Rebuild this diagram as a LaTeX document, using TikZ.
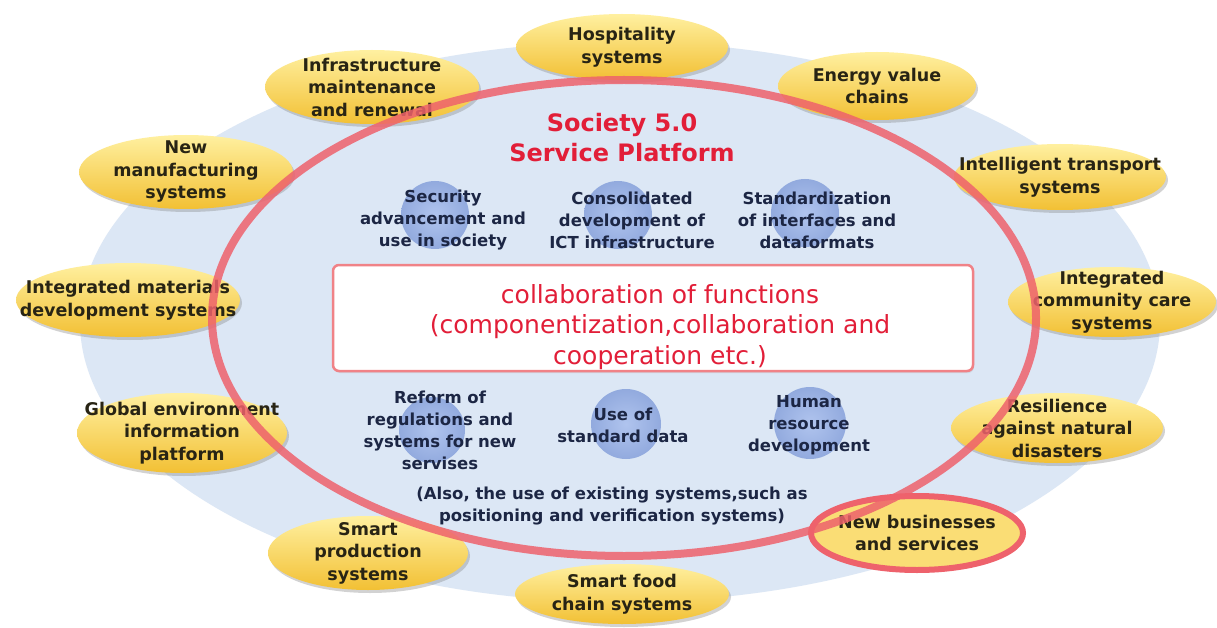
\documentclass[tikz,border=0pt]{standalone}
\usepackage{fontspec}
\setmainfont{DejaVu Sans}
\usetikzlibrary{shapes.geometric,shadows}
\definecolor{bgblue}{RGB}{220,231,245}
\definecolor{ringred}{RGB}{238,98,108}
\definecolor{ytop}{RGB}{255,240,160}
\definecolor{ybot}{RGB}{242,192,52}
\definecolor{cblue}{RGB}{176,196,238}
\definecolor{cblueout}{RGB}{146,170,222}
\definecolor{navy}{RGB}{28,38,68}
\definecolor{dark}{RGB}{40,36,20}
\definecolor{titlered}{RGB}{226,30,56}
\definecolor{boxred}{RGB}{240,130,135}
\tikzset{
  yell/.style={ellipse, inner sep=0pt, top color=ytop, bottom color=ybot, draw=none,
    drop shadow={opacity=0.35, shadow xshift=2pt, shadow yshift=-3pt}},
  ylab/.style={font=\bfseries\fontsize{17.5}{22.5}\selectfont, text=dark, align=center, inner sep=0pt},
  ilab/.style={font=\bfseries\fontsize{16.5}{22}\selectfont, text=navy, align=center, inner sep=0pt},
  bcirc/.style={circle, inner sep=0pt, minimum size=68pt, inner color=cblue, outer color=cblueout},
}
\begin{document}
\begin{tikzpicture}[x=1pt,y=-1pt]
\useasboundingbox (0,0) rectangle (1217,628);
\fill[white] (0,0) rectangle (1217,628);
% background ellipse
\node[ellipse, fill=bgblue, minimum width=1080pt, minimum height=560pt, inner sep=0pt] (bg) at (620,322) {};
% blue circles
\node[bcirc] (c1) at (435,215) {};
\node[bcirc] (c2) at (618,215) {};
\node[bcirc] (c3) at (805,213) {};
\node[bcirc, minimum size=66pt] (c0) at (432,430) {};
\node[bcirc, minimum size=70pt] (c4) at (626,424) {};
\node[bcirc, minimum size=72pt] (c5) at (810,423) {};
% yellow ellipses
\node[yell, minimum width=214pt, minimum height=74pt] (infra) at (372,87) {};
\node[yell, minimum width=212pt, minimum height=66pt] (hosp) at (622,47) {};
\node[yell, minimum width=198pt, minimum height=68pt] (energy) at (877,86) {};
\node[yell, minimum width=212pt, minimum height=66pt] (its) at (1060,177) {};
\node[yell, minimum width=208pt, minimum height=70pt] (care) at (1112,302) {};
\node[yell, minimum width=212pt, minimum height=70pt] (resil) at (1057,428) {};
\node[yell, minimum width=214pt, minimum height=60pt] (food) at (622,594) {};
\node[yell, minimum width=200pt, minimum height=74pt] (prod) at (368,553) {};
\node[yell, minimum width=210pt, minimum height=80pt] (glob) at (182,433) {};
\node[yell, minimum width=224pt, minimum height=74pt] (mat) at (128,300) {};
\node[yell, minimum width=214pt, minimum height=74pt] (manu) at (186,172) {};
\node[ellipse, inner sep=0pt, minimum width=212pt, minimum height=74pt, fill=ytop!60!ybot, draw=ringred, line width=6pt] (biz) at (917,533) {};
% labels on yellow ellipses
\node[ylab] (tinfra) at (infra) {Infrastructure\\maintenance\\and renewal};
\node[ylab] (thosp) at (hosp) {Hospitality\\systems};
\node[ylab] (tenergy) at (energy) {Energy value\\chains};
\node[ylab] (tits) at (its) {Intelligent transport\\systems};
\node[ylab] (tcare) at (care) {Integrated\\community care\\systems};
\node[ylab] (tresil) at (resil) {Resilience\\against natural\\disasters};
\node[ylab] (tbiz) at (biz) {New businesses\\and services};
\node[ylab] (tfood) at (food) {Smart food\\chain systems};
\node[ylab] (tprod) at (prod) {Smart\\production\\systems};
\node[ylab] (tglob) at (glob) {Global environment\\information\\platform};
\node[ylab] (tmat) at (mat) {Integrated materials\\development systems};
\node[ylab] (tmanu) at (manu) {New\\manufacturing\\systems};
% red ring
\node[ellipse, inner sep=0pt, minimum width=824pt, minimum height=476pt, draw=ringred, draw opacity=0.85, line width=8pt] (ring) at (624,318) {};
% title
\node[font=\bfseries\fontsize{24}{30}\selectfont, text=titlered, align=center, inner sep=0pt] (title) at (622,138) {Society 5.0\\Service Platform};
% top labels
\node[ilab] (t1) at (443,220) {Security\\advancement and\\use in society};
\node[ilab] (t2) at (632,220) {Consolidated\\development of\\ICT infrastructure};
\node[ilab] (t3) at (817,220) {Standardization\\of interfaces and\\dataformats};
% box
\node[draw=boxred, line width=2.5pt, fill=white, rounded corners=6pt, minimum width=640pt, minimum height=106pt, inner sep=0pt,
  drop shadow={opacity=0.15, shadow xshift=1pt, shadow yshift=-2pt}] (box) at (653,318) {};
\node[font=\fontsize{25}{30.5}\selectfont, text=titlered, align=center, inner sep=0pt] (boxt) at (660,327) {collaboration of functions\\(componentization,collaboration and\\cooperation etc.)};
% bottom labels
\node[ilab] (b1) at (440,430) {Reform of\\regulations and\\systems for new\\servises};
\node[ilab] (b2) at (623,425) {Use of\\standard data};
\node[ilab] (b3) at (809,425) {Human\\resource\\development};
\node[ilab] (b4) at (612,506) {(Also, the use of existing systems,such as\\positioning and verification systems)};
\end{tikzpicture}
\end{document}
